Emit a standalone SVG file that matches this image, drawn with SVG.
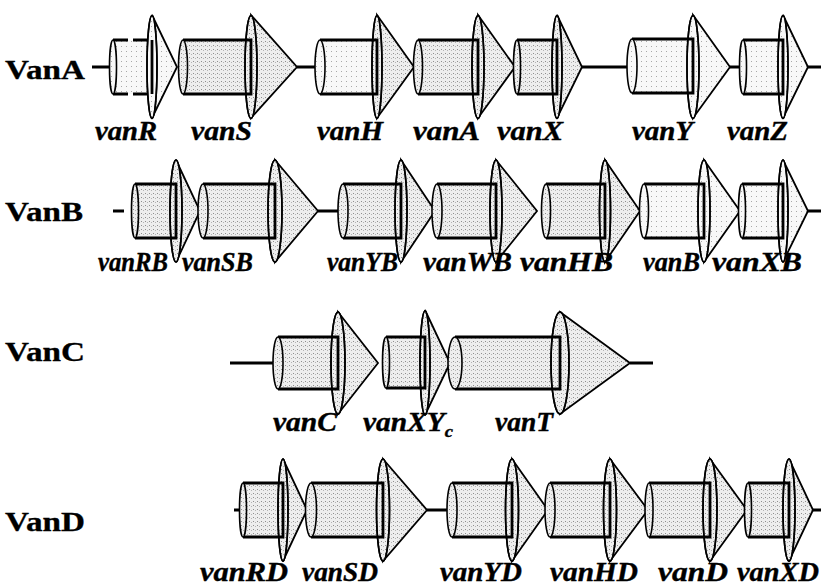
<svg xmlns="http://www.w3.org/2000/svg" width="821" height="588" viewBox="0 0 821 588">
<defs>
<pattern id="dots" width="4" height="4" patternUnits="userSpaceOnUse"><rect width="4" height="4" fill="#eeeeee"/><rect x="1" y="1" width="1" height="1" fill="#8f8f8f"/><rect x="3" y="2" width="1" height="1" fill="#b5b5b5"/></pattern>
<pattern id="light" width="5" height="5" patternUnits="userSpaceOnUse"><rect width="5" height="5" fill="#f8f8f8"/><rect x="1" y="1" width="1" height="1" fill="#a8a8a8"/></pattern>
</defs>
<style>
.bg{fill:#ffffff}
.f{fill:url(#dots);stroke:none}
.fl{fill:url(#light);stroke:none}
.cone{fill:url(#dots);stroke:#000;stroke-width:1.8;stroke-linejoin:miter}
.conel{fill:url(#light);stroke:#000;stroke-width:1.8}
.lens{fill:url(#dots);stroke:#000;stroke-width:1.6}
.lensl{fill:url(#light);stroke:#000;stroke-width:1.6}
.ol{fill:none;stroke:#000;stroke-width:1.6}
.body{fill:none;stroke:#000;stroke-width:2.8}
.dash{stroke-dasharray:15 5}
.cap{fill:url(#dots);stroke:#000;stroke-width:1.6}
.capl{fill:url(#light);stroke:#000;stroke-width:1.6}
.axis{stroke:#000;stroke-width:3;fill:none}
.lbl{font-family:"Liberation Serif","Times New Roman",serif;font-weight:bold;font-style:italic;font-size:27px;fill:#000;stroke:#000;stroke-width:0.4}
.ttl{font-family:"Liberation Serif","Times New Roman",serif;font-weight:bold;font-size:27px;fill:#000;stroke:#000;stroke-width:0.3}
</style>
<rect class="bg" x="0" y="0" width="821" height="588"/>

<g id="connectors">
<path class="axis" d="M92,67H113 M297,67H320 M582,67H632 M730,67H743 M808,67H821"/>
<path class="axis" d="M113,211H124 M318,211H343 M808,211H821"/>
<path class="axis" d="M230,363H278 M630,363H653"/>
<path class="axis" d="M234,510H243 M427,510H452 M813,510H821"/>
</g>

<g id="titles">
<text class="ttl" x="5" y="79" textLength="80" lengthAdjust="spacingAndGlyphs">VanA</text>
<text class="ttl" x="5" y="221" textLength="78" lengthAdjust="spacingAndGlyphs">VanB</text>
<text class="ttl" x="5" y="361" textLength="80" lengthAdjust="spacingAndGlyphs">VanC</text>
<text class="ttl" x="5" y="531" textLength="80" lengthAdjust="spacingAndGlyphs">VanD</text>
</g>

<!-- Row A -->
<g id="vanR">
<rect class="fl" x="113" y="40" width="39" height="54"/>
<path class="conel" d="M152,15L177,67L152,118Z"/>
<ellipse class="lensl" cx="152" cy="67" rx="5" ry="51.5"/>
<path class="body dash" d="M113,40H152M113,94H152"/>
<path class="body" d="M152,40V94"/>
<ellipse class="ol" cx="152" cy="67" rx="5" ry="51.5"/>
<ellipse class="capl" cx="113" cy="67" rx="3.5" ry="27"/>
<text class="lbl" x="95" y="140" textLength="62" lengthAdjust="spacingAndGlyphs">vanR</text>
</g>
<g id="vanS">
<rect class="f" x="183" y="40" width="68" height="54"/>
<path class="cone" d="M251,15L297,67L251,118Z"/>
<ellipse class="lens" cx="251" cy="67" rx="6" ry="51.5"/>
<path class="body" d="M183,40H251V94H183"/>
<ellipse class="ol" cx="251" cy="67" rx="6" ry="51.5"/>
<ellipse class="cap" cx="183" cy="67" rx="4.5" ry="27"/>
<text class="lbl" x="191" y="140" textLength="61" lengthAdjust="spacingAndGlyphs">vanS</text>
</g>
<g id="vanH">
<rect class="fl" x="320" y="40" width="57" height="54"/>
<path class="cone" d="M377,15L414,67L377,118Z"/>
<ellipse class="lens" cx="377" cy="67" rx="5" ry="51.5"/>
<path class="body" d="M320,40H377V94H320"/>
<ellipse class="ol" cx="377" cy="67" rx="5" ry="51.5"/>
<ellipse class="capl" cx="320" cy="67" rx="5" ry="27"/>
<text class="lbl" x="317" y="140" textLength="66" lengthAdjust="spacingAndGlyphs">vanH</text>
</g>
<g id="vanA">
<rect class="f" x="418" y="40" width="60" height="54"/>
<path class="cone" d="M478,15L515,67L478,118Z"/>
<ellipse class="lens" cx="478" cy="67" rx="6" ry="51.5"/>
<path class="body" d="M418,40H478V94H418"/>
<ellipse class="ol" cx="478" cy="67" rx="6" ry="51.5"/>
<ellipse class="cap" cx="418" cy="67" rx="4.5" ry="27"/>
<text class="lbl" x="413" y="140" textLength="67" lengthAdjust="spacingAndGlyphs">vanA</text>
</g>
<g id="vanX">
<rect class="f" x="517" y="40" width="40" height="54"/>
<path class="cone" d="M557,15L582,67L557,118Z"/>
<ellipse class="lens" cx="557" cy="67" rx="5" ry="51.5"/>
<path class="body" d="M517,40H557V94H517"/>
<ellipse class="ol" cx="557" cy="67" rx="5" ry="51.5"/>
<ellipse class="cap" cx="517" cy="67" rx="3.5" ry="27"/>
<text class="lbl" x="497" y="140" textLength="66" lengthAdjust="spacingAndGlyphs">vanX</text>
</g>
<g id="vanY">
<rect class="fl" x="632" y="39" width="61" height="54"/>
<path class="conel" d="M693,15L730,67L693,118Z"/>
<ellipse class="lensl" cx="693" cy="67" rx="6" ry="51.5"/>
<path class="body" d="M632,39H693V93H632"/>
<ellipse class="ol" cx="693" cy="67" rx="6" ry="51.5"/>
<ellipse class="capl" cx="632" cy="66" rx="5" ry="27"/>
<text class="lbl" x="632" y="140" textLength="61" lengthAdjust="spacingAndGlyphs">vanY</text>
</g>
<g id="vanZ">
<rect class="fl" x="743" y="40" width="40" height="54"/>
<path class="conel" d="M783,15L808,67L783,118Z"/>
<ellipse class="lensl" cx="783" cy="67" rx="5" ry="51.5"/>
<path class="body" d="M743,40H783V94H743"/>
<ellipse class="ol" cx="783" cy="67" rx="5" ry="51.5"/>
<ellipse class="capl" cx="743" cy="67" rx="3.5" ry="27"/>
<text class="lbl" x="727" y="140" textLength="61" lengthAdjust="spacingAndGlyphs">vanZ</text>
</g>

<!-- Row B -->
<g id="vanRB">
<rect class="f" x="135" y="184" width="41" height="54"/>
<path class="cone" d="M176,160L200,211L176,262Z"/>
<ellipse class="lens" cx="176" cy="211" rx="6" ry="51"/>
<path class="body" d="M135,184H176V238H135"/>
<ellipse class="ol" cx="176" cy="211" rx="6" ry="51"/>
<ellipse class="cap" cx="135" cy="211" rx="3.5" ry="27"/>
<text class="lbl" x="98" y="271" textLength="70" lengthAdjust="spacingAndGlyphs">vanRB</text>
</g>
<g id="vanSB">
<rect class="f" x="203" y="184" width="72" height="54"/>
<path class="cone" d="M275,160L318,211L275,262Z"/>
<ellipse class="lens" cx="275" cy="211" rx="7" ry="51"/>
<path class="body" d="M203,184H275V238H203"/>
<ellipse class="ol" cx="275" cy="211" rx="7" ry="51"/>
<ellipse class="cap" cx="203" cy="211" rx="5" ry="27"/>
<text class="lbl" x="182" y="271" textLength="71" lengthAdjust="spacingAndGlyphs">vanSB</text>
</g>
<g id="vanYB">
<rect class="f" x="343" y="184" width="58" height="54"/>
<path class="cone" d="M401,160L435,211L401,262Z"/>
<ellipse class="lens" cx="401" cy="211" rx="6" ry="51"/>
<path class="body" d="M343,184H401V238H343"/>
<ellipse class="ol" cx="401" cy="211" rx="6" ry="51"/>
<ellipse class="cap" cx="343" cy="211" rx="5" ry="27"/>
<text class="lbl" x="327" y="271" textLength="71" lengthAdjust="spacingAndGlyphs">vanYB</text>
</g>
<g id="vanWB">
<rect class="f" x="437" y="184" width="59" height="54"/>
<path class="cone" d="M496,160L537,211L496,262Z"/>
<ellipse class="lens" cx="496" cy="211" rx="6" ry="51"/>
<path class="body" d="M437,184H496V238H437"/>
<ellipse class="ol" cx="496" cy="211" rx="6" ry="51"/>
<ellipse class="cap" cx="437" cy="211" rx="5" ry="27"/>
<text class="lbl" x="423" y="271" textLength="89" lengthAdjust="spacingAndGlyphs">vanWB</text>
</g>
<g id="vanHB">
<rect class="f" x="546" y="184" width="59" height="54"/>
<path class="cone" d="M605,160L640,211L605,262Z"/>
<ellipse class="lens" cx="605" cy="211" rx="5.5" ry="51"/>
<path class="body" d="M546,184H605V238H546"/>
<ellipse class="ol" cx="605" cy="211" rx="5.5" ry="51"/>
<ellipse class="cap" cx="546" cy="211" rx="4.5" ry="27"/>
<text class="lbl" x="520" y="271" textLength="93" lengthAdjust="spacingAndGlyphs">vanHB</text>
</g>
<g id="vanB">
<rect class="fl" x="644" y="184" width="60" height="54"/>
<path class="conel" d="M704,160L740,211L704,262Z"/>
<ellipse class="lensl" cx="704" cy="211" rx="6" ry="51"/>
<path class="body" d="M644,184H704V238H644"/>
<ellipse class="ol" cx="704" cy="211" rx="6" ry="51"/>
<ellipse class="capl" cx="644" cy="211" rx="4.5" ry="27"/>
<text class="lbl" x="643" y="271" textLength="57" lengthAdjust="spacingAndGlyphs">vanB</text>
</g>
<g id="vanXB">
<rect class="fl" x="742" y="184" width="41" height="54"/>
<path class="conel" d="M783,160L808,211L783,262Z"/>
<ellipse class="lensl" cx="783" cy="211" rx="5" ry="51"/>
<path class="body" d="M742,184H783V238H742"/>
<ellipse class="ol" cx="783" cy="211" rx="5" ry="51"/>
<ellipse class="capl" cx="742" cy="211" rx="3.5" ry="27"/>
<text class="lbl" x="712" y="271" textLength="90" lengthAdjust="spacingAndGlyphs">vanXB</text>
</g>

<!-- Row C -->
<g id="vanC">
<rect class="f" x="278" y="337" width="60" height="52"/>
<path class="cone" d="M338,312L378,363L338,414Z"/>
<ellipse class="lens" cx="338" cy="363" rx="7" ry="51"/>
<path class="body" d="M278,337H338V389H278"/>
<ellipse class="ol" cx="338" cy="363" rx="7" ry="51"/>
<ellipse class="cap" cx="278" cy="363" rx="5" ry="26"/>
<text class="lbl" x="273" y="431" textLength="64" lengthAdjust="spacingAndGlyphs">vanC</text>
</g>
<g id="vanXYc">
<rect class="f" x="386" y="337" width="39" height="51"/>
<path class="cone" d="M425,310L450,363L425,415Z"/>
<ellipse class="lens" cx="425" cy="363" rx="5" ry="52"/>
<path class="body" d="M386,337H425V388H386"/>
<ellipse class="ol" cx="425" cy="363" rx="5" ry="52"/>
<ellipse class="cap" cx="386" cy="362.5" rx="3.5" ry="25.5"/>
<text class="lbl" x="363" y="431" textLength="90" lengthAdjust="spacingAndGlyphs">vanXY<tspan dy="6" font-size="17">c</tspan></text>
</g>
<g id="vanT">
<rect class="f" x="455" y="337" width="105" height="52"/>
<path class="cone" d="M560,312L630,363L560,414Z"/>
<ellipse class="lens" cx="560" cy="363" rx="9" ry="51"/>
<path class="body" d="M455,337H560V389H455"/>
<ellipse class="ol" cx="560" cy="363" rx="9" ry="51"/>
<ellipse class="cap" cx="455" cy="363" rx="7" ry="26"/>
<text class="lbl" x="495" y="431" textLength="58" lengthAdjust="spacingAndGlyphs">vanT</text>
</g>

<!-- Row D -->
<g id="vanRD">
<rect class="f" x="243" y="483" width="40" height="54"/>
<path class="cone" d="M283,459L307,510L283,561Z"/>
<ellipse class="lens" cx="283" cy="510" rx="5" ry="51"/>
<path class="body" d="M243,483H283V537H243"/>
<ellipse class="ol" cx="283" cy="510" rx="5" ry="51"/>
<ellipse class="cap" cx="243" cy="510" rx="3.5" ry="27"/>
<text class="lbl" x="200" y="581" textLength="88" lengthAdjust="spacingAndGlyphs">vanRD</text>
</g>
<g id="vanSD">
<rect class="f" x="311" y="483" width="72" height="54"/>
<path class="cone" d="M383,459L427,510L383,561Z"/>
<ellipse class="lens" cx="383" cy="510" rx="6.5" ry="51"/>
<path class="body" d="M311,483H383V537H311"/>
<ellipse class="ol" cx="383" cy="510" rx="6.5" ry="51"/>
<ellipse class="cap" cx="311" cy="510" rx="5.5" ry="27"/>
<text class="lbl" x="302" y="581" textLength="76" lengthAdjust="spacingAndGlyphs">vanSD</text>
</g>
<g id="vanYD">
<rect class="f" x="452" y="483" width="60" height="54"/>
<path class="cone" d="M512,459L548,510L512,561Z"/>
<ellipse class="lens" cx="512" cy="510" rx="6.5" ry="51"/>
<path class="body" d="M452,483H512V537H452"/>
<ellipse class="ol" cx="512" cy="510" rx="6.5" ry="51"/>
<ellipse class="cap" cx="452" cy="510" rx="5" ry="27"/>
<text class="lbl" x="440" y="581" textLength="82" lengthAdjust="spacingAndGlyphs">vanYD</text>
</g>
<g id="vanHD">
<rect class="f" x="550" y="483" width="60" height="54"/>
<path class="cone" d="M610,459L648,510L610,561Z"/>
<ellipse class="lens" cx="610" cy="510" rx="6.5" ry="51"/>
<path class="body" d="M550,483H610V537H550"/>
<ellipse class="ol" cx="610" cy="510" rx="6.5" ry="51"/>
<ellipse class="cap" cx="550" cy="510" rx="5" ry="27"/>
<text class="lbl" x="550" y="581" textLength="88" lengthAdjust="spacingAndGlyphs">vanHD</text>
</g>
<g id="vanD">
<rect class="f" x="649" y="483" width="61" height="54"/>
<path class="cone" d="M710,459L747,510L710,561Z"/>
<ellipse class="lens" cx="710" cy="510" rx="7" ry="51"/>
<path class="body" d="M649,483H710V537H649"/>
<ellipse class="ol" cx="710" cy="510" rx="7" ry="51"/>
<ellipse class="cap" cx="649" cy="510" rx="4" ry="27"/>
<text class="lbl" x="658" y="581" textLength="70" lengthAdjust="spacingAndGlyphs">vanD</text>
</g>
<g id="vanXD">
<rect class="f" x="748" y="483" width="41" height="54"/>
<path class="cone" d="M789,459L813,510L789,561Z"/>
<ellipse class="lens" cx="789" cy="510" rx="6" ry="51"/>
<path class="body" d="M748,483H789V537H748"/>
<ellipse class="ol" cx="789" cy="510" rx="6" ry="51"/>
<ellipse class="cap" cx="748" cy="510" rx="3.5" ry="27"/>
<text class="lbl" x="737" y="581" textLength="82" lengthAdjust="spacingAndGlyphs">vanXD</text>
</g>
</svg>
